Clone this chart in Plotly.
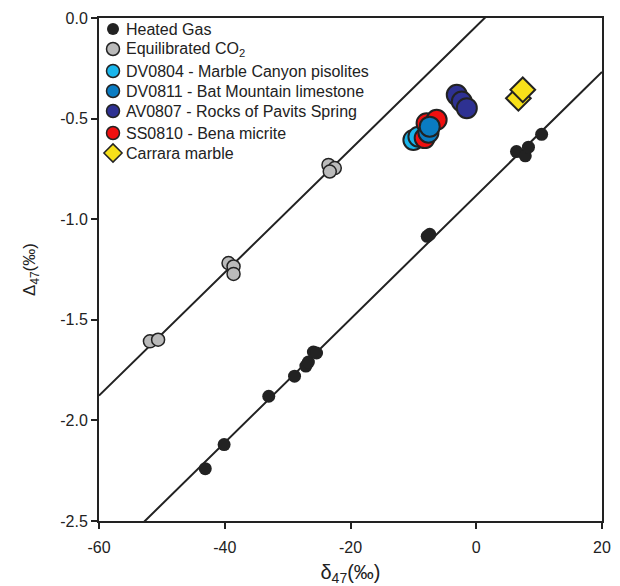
import numpy as np
import plotly.graph_objects as go

# ---- data ----
heated_x = [-43.1, -40.1, -33.0, -28.9, -27.1, -26.7, -25.9, -25.4, -7.8, -7.4, 6.4, 7.8, 8.3, 10.4]
heated_y = [-2.24, -2.12, -1.88, -1.78, -1.73, -1.71, -1.66, -1.665, -1.085, -1.075, -0.664, -0.685, -0.642, -0.578]

equil_x = [-51.9, -50.6, -39.4, -38.6, -38.6, -23.5, -22.5, -23.3]
equil_y = [-1.607, -1.599, -1.218, -1.235, -1.272, -0.73, -0.746, -0.763]

dv0804_x = [-10.0, -9.2]
dv0804_y = [-0.606, -0.59]

ss0810_x = [-7.9, -6.3, -8.2]
ss0810_y = [-0.523, -0.506, -0.597]

dv0811_x = [-7.6, -7.4]
dv0811_y = [-0.57, -0.54]

av0807_x = [-3.1, -2.3, -1.5]
av0807_y = [-0.382, -0.415, -0.448]

carrara_x = [6.7, 7.4]
carrara_y = [-0.399, -0.357]

# reference lines (slope, intercept)
line_equil = (0.0306, -0.041)
line_heated = (0.0307, -0.882)

x_range = [-60, 20]
y_range = [-2.5, 0.0]
x_ticks = [-60, -40, -20, 0, 20]
x_ticklabels = ["-60", "-40", "-20", "0", "20"]
y_ticks = [0.0, -0.5, -1.0, -1.5, -2.0, -2.5]
y_ticklabels = ["0.0", "-0.5", "-1.0", "-1.5", "-2.0", "-2.5"]

# legend entries
legend_labels = ["Heated Gas", "Equilibrated CO<sub>2</sub>",
                 "DV0804 - Marble Canyon pisolites",
                 "DV0811 - Bat Mountain limestone",
                 "AV0807 - Rocks of Pavits Spring",
                 "SS0810 - Bena micrite", "Carrara marble"]

FONT = "Liberation Sans, Arial, Helvetica, sans-serif"
DARK = "#222222"
C_HEATED, C_EQUIL = DARK, "#bababa"
C_0804, C_0811, C_0807, C_0810, C_CAR = "#1ab6ec", "#0a7cc2", "#2e3192", "#f01010", "#f7e01a"

legend_colors = [C_HEATED, C_EQUIL, C_0804, C_0811, C_0807, C_0810, C_CAR]
legend_symbols = ["circle"] * 6 + ["diamond"]
legend_sizes = [12, 13, 13, 13, 13, 13, 14]
legend_linew = [0, 1.5, 1.5, 1.5, 1.5, 1.5, 1.5]
# legend layout: offsets in pixels from plot top-left
legend_marker_x = 14
legend_text_x = 25
legend_rows = [11, 31, 53, 73, 93, 115, 135]

fig = go.Figure()

# regression lines across the axis range
xs = np.linspace(x_range[0], x_range[1], 200)
for slope, icpt in (line_equil, line_heated):
    fig.add_trace(go.Scatter(x=xs, y=slope * xs + icpt, mode="lines",
                             line=dict(color=DARK, width=2), showlegend=False,
                             hoverinfo="skip"))

def pts(x, y, name, color, size, symbol="circle", lw=2):
    fig.add_trace(go.Scatter(
        x=x, y=y, mode="markers", name=name, showlegend=False,
        marker=dict(color=color, size=size, symbol=symbol, opacity=1,
                    line=dict(color=DARK, width=lw))))

pts(heated_x, heated_y, "Heated Gas", C_HEATED, 13, lw=0)
pts(equil_x, equil_y, "Equilibrated CO2", C_EQUIL, 13, lw=1.5)
pts(dv0804_x, dv0804_y, "DV0804", C_0804, 20)
pts(ss0810_x, ss0810_y, "SS0810", C_0810, 20)
pts(dv0811_x, dv0811_y, "DV0811", C_0811, 20)
pts(av0807_x, av0807_y, "AV0807", C_0807, 20)
pts(carrara_x, carrara_y, "Carrara marble", C_CAR, 19, symbol="diamond")

# legend symbols on an overlay pixel axis
fig.add_trace(go.Scatter(
    x=[legend_marker_x] * len(legend_rows), y=legend_rows, mode="markers",
    xaxis="x2", yaxis="y2", showlegend=False, hoverinfo="skip",
    marker=dict(color=legend_colors, symbol=legend_symbols, size=legend_sizes,
                opacity=1, line=dict(color=DARK, width=legend_linew))))

annotations = []
for lab, row in zip(legend_labels, legend_rows):
    annotations.append(dict(x=legend_text_x, y=row, xref="x2", yref="y2",
                            text=lab, showarrow=False, xanchor="left",
                            yanchor="middle",
                            font=dict(family=FONT, size=16, color=DARK)))

axis_common = dict(showline=True, linecolor=DARK, linewidth=2, mirror=True,
                   ticks="outside", ticklen=6, tickwidth=1.5, tickcolor=DARK,
                   showgrid=False, zeroline=False, automargin=False,
                   tickfont=dict(family=FONT, size=16, color=DARK))

W, H = 620, 586
ML, MR, MT, MB = 99, 18, 18, 65
PW, PH = W - ML - MR, H - MT - MB

fig.update_layout(
    width=W, height=H,
    margin=dict(l=ML, r=MR, t=MT, b=MB),
    paper_bgcolor="white", plot_bgcolor="white",
    font=dict(family=FONT, size=16, color=DARK),
    showlegend=False,
    annotations=annotations,
    xaxis=dict(range=x_range, tickvals=x_ticks, ticktext=x_ticklabels,
               ticklabelstandoff=5,
               title=dict(text="δ<sub>47</sub>(‰)", font=dict(size=20), standoff=10),
               **axis_common),
    yaxis=dict(range=y_range, tickvals=y_ticks, ticktext=y_ticklabels,
               title=dict(text="Δ<sub>47</sub>(‰)", font=dict(size=17), standoff=20),
               **axis_common),
    xaxis2=dict(overlaying="x", range=[0, PW], visible=False, fixedrange=True),
    yaxis2=dict(overlaying="y", range=[PH, 0], visible=False, fixedrange=True),
)

fig.write_html("out.html")
